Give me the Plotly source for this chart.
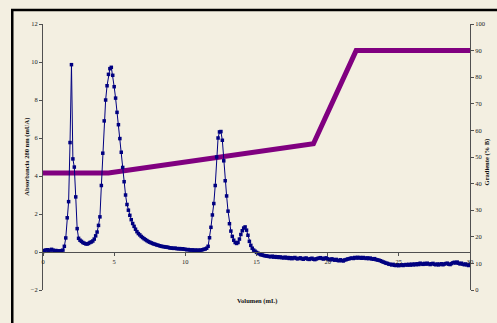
import numpy as np
import plotly.graph_objects as go

# Sample grid (mL), 0.1 mL steps from 0 to 30
volume = np.round(np.arange(0, 301) * 0.1, 1)

absorbance = [
    0.02, 0.08, 0.10, 0.12, 0.08, 0.10, 0.14, 0.10, 0.05, 0.08,
    0.04, 0.06, 0.05, 0.07, 0.10, 0.30, 0.74, 1.80, 2.65, 5.76,
    9.86, 4.90, 4.47, 2.90, 1.23, 0.72, 0.62, 0.56, 0.50, 0.46,
    0.43, 0.42, 0.45, 0.50, 0.53, 0.58, 0.68, 0.85, 1.05, 1.40,
    1.85, 3.50, 5.20, 6.90, 8.00, 8.75, 9.35, 9.65, 9.72, 9.30,
    8.70, 8.10, 7.35, 6.70, 5.97, 5.25, 4.45, 3.70, 3.00, 2.50,
    2.20, 1.93, 1.70, 1.50, 1.35, 1.20, 1.07, 0.97, 0.90, 0.82,
    0.76, 0.70, 0.65, 0.60, 0.55, 0.52, 0.48, 0.45, 0.42, 0.40,
    0.37, 0.35, 0.33, 0.30, 0.29, 0.28, 0.26, 0.26, 0.24, 0.22,
    0.21, 0.20, 0.19, 0.20, 0.18, 0.17, 0.18, 0.16, 0.17, 0.15,
    0.14, 0.12, 0.13, 0.11, 0.10, 0.11, 0.09, 0.10, 0.08, 0.10,
    0.08, 0.10, 0.12, 0.14, 0.16, 0.20, 0.30, 0.75, 1.30, 1.95,
    2.55, 3.50, 5.00, 6.00, 6.32, 6.34, 5.88, 4.80, 3.75, 2.95,
    2.15, 1.49, 1.10, 0.82, 0.62, 0.50, 0.45, 0.50, 0.68, 0.92,
    1.12, 1.26, 1.32, 1.15, 0.88, 0.56, 0.35, 0.20, 0.10, 0.04,
    -0.02, -0.06, -0.10, -0.14, -0.16, -0.18, -0.20, -0.21, -0.22, -0.24,
    -0.25, -0.22, -0.27, -0.24, -0.28, -0.25, -0.29, -0.26, -0.30, -0.31,
    -0.27, -0.32, -0.29, -0.34, -0.30, -0.35, -0.31, -0.29, -0.34, -0.36,
    -0.33, -0.31, -0.36, -0.38, -0.33, -0.32, -0.37, -0.39, -0.35, -0.33,
    -0.38, -0.40, -0.36, -0.34, -0.32, -0.30, -0.34, -0.37, -0.33, -0.31,
    -0.36, -0.39, -0.41, -0.36, -0.40, -0.43, -0.39, -0.44, -0.46, -0.41,
    -0.45, -0.47, -0.42, -0.40, -0.37, -0.36, -0.33, -0.32, -0.34, -0.29,
    -0.32, -0.28, -0.32, -0.29, -0.33, -0.29, -0.32, -0.34, -0.31, -0.35,
    -0.32, -0.36, -0.38, -0.35, -0.40, -0.42, -0.43, -0.46, -0.49, -0.53,
    -0.55, -0.59, -0.60, -0.64, -0.65, -0.68, -0.65, -0.70, -0.71, -0.67,
    -0.72, -0.69, -0.67, -0.71, -0.68, -0.66, -0.69, -0.65, -0.69, -0.64,
    -0.68, -0.63, -0.67, -0.62, -0.66, -0.59, -0.63, -0.65, -0.60, -0.64,
    -0.59, -0.63, -0.66, -0.62, -0.60, -0.65, -0.67, -0.63, -0.68, -0.64,
    -0.62, -0.67, -0.63, -0.61, -0.59, -0.64, -0.66, -0.61, -0.57, -0.54,
    -0.58, -0.53, -0.59, -0.63, -0.59, -0.64, -0.67, -0.63, -0.68, -0.71,
    -0.65,
]

gradient_volume = [0, 4.6, 19.0, 22.0, 30]
gradient_pct = [44, 44, 55, 90, 90]

x_ticks = [0, 5, 10, 15, 20, 25, 30]
abs_ticks = [-2, 0, 2, 4, 6, 8, 10, 12]
grad_ticks = [0, 10, 20, 30, 40, 50, 60, 70, 80, 90, 100]

FONT = "Liberation Serif"
BG = "#F3EFE1"
AXIS = "#505050"
TXT = "#222222"

fig = go.Figure()

# Gradient on primary y (right side, drawn underneath)
fig.add_trace(go.Scatter(
    x=gradient_volume, y=gradient_pct, mode="lines",
    line=dict(color="#800080", width=5),
    xaxis="x", yaxis="y", showlegend=False, hoverinfo="skip",
))

# Absorbance on y2 (left side, drawn on top)
fig.add_trace(go.Scatter(
    x=volume, y=absorbance, mode="lines+markers",
    line=dict(color="#000080", width=1),
    marker=dict(symbol="square", size=3.5, color="#000080"),
    xaxis="x", yaxis="y2", showlegend=False,
))

fig.update_layout(
    width=497, height=323,
    margin=dict(l=43, r=27, t=24, b=33),
    paper_bgcolor=BG, plot_bgcolor=BG,
    font=dict(family=FONT, size=6.5, color=TXT),
    xaxis=dict(
        range=[0, 30], tickvals=x_ticks, ticks="outside", ticklen=3,
        tickcolor=AXIS, showline=True, linecolor=AXIS, linewidth=1,
        showgrid=False, zeroline=False, anchor="free", position=1 / 7,
        tickfont=dict(family=FONT, size=6.5, color=TXT),
    ),
    yaxis=dict(
        range=[0, 100], tickvals=grad_ticks, side="right", ticks="outside",
        ticklen=3, tickcolor=AXIS, showline=True, linecolor=AXIS, linewidth=1,
        showgrid=False, zeroline=False,
        tickfont=dict(family=FONT, size=6.5, color=TXT),
    ),
    yaxis2=dict(
        range=[-2, 12], tickvals=abs_ticks, side="left", overlaying="y",
        ticks="outside", ticklen=3, tickcolor=AXIS, showline=True,
        linecolor=AXIS, linewidth=1, showgrid=False, zeroline=False,
        tickfont=dict(family=FONT, size=6.5, color=TXT),
    ),
    annotations=[
        dict(text="<b>Volumen (mL)</b>", xref="paper", yref="paper",
             x=0.5, y=-0.04, showarrow=False, xanchor="center", yanchor="middle",
             font=dict(family=FONT, size=6.5, color="#111111")),
        dict(text="<b>Absorbancia 280 nm (mUA)</b>", xref="paper", yref="paper",
             x=-0.038, y=0.5, textangle=-90, showarrow=False,
             xanchor="center", yanchor="middle",
             font=dict(family=FONT, size=6.5, color="#111111")),
        dict(text="<b>Gradiente (% B)</b>", xref="paper", yref="paper",
             x=1.04, y=0.48, textangle=-90, showarrow=False,
             xanchor="center", yanchor="middle",
             font=dict(family=FONT, size=6.5, color="#111111")),
    ],
    shapes=[
        dict(type="rect", xref="paper", yref="paper",
             x0=-0.072, x1=1.08, y0=-0.2, y1=1.053,
             line=dict(color="black", width=2.5), fillcolor="rgba(0,0,0,0)",
             layer="below"),
    ],
)

fig.write_html(
    "out.html",
    config={"displayModeBar": False},
    post_script="document.body.style.margin='0';document.body.style.background='#F3EFE1';",
)
